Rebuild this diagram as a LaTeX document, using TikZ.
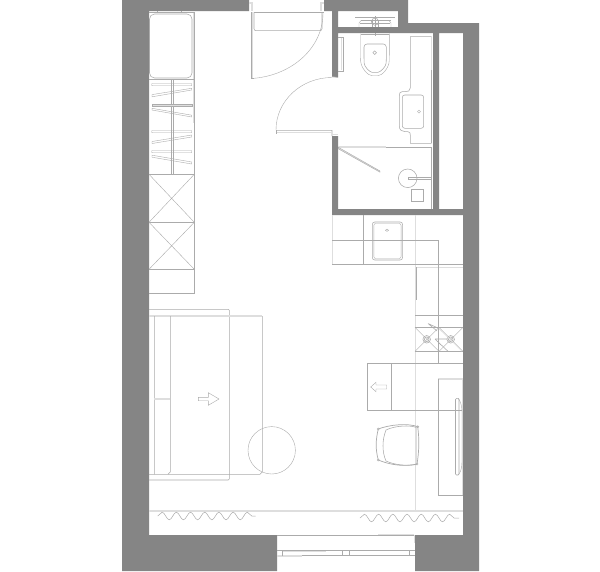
\documentclass[tikz,border=0pt]{standalone}
\usetikzlibrary{decorations.pathmorphing}
\definecolor{wallc}{HTML}{858585}
\definecolor{linec}{HTML}{ABABAB}
\definecolor{lightc}{HTML}{DEDEDE}
\tikzset{
  wall/.style={fill=wallc,draw=none},
  thin line/.style={draw=linec,line width=0.55pt},
  fine line/.style={draw=linec,line width=0.4pt},
  light line/.style={draw=lightc,line width=1.1pt},
  wave/.style={draw=linec,line width=0.5pt,decorate,decoration={snake,amplitude=3.8pt,segment length=14.2pt}},
}
\begin{document}
\begin{tikzpicture}[x=1pt,y=-1pt]
\useasboundingbox (0,0) rectangle (600,571);
\fill[white] (0,0) rectangle (600,571);
% walls
\fill[wall] (122,0)--(249,0)--(249,11)--(149,11)--(149,535)--(277,535)--(277,571)--(122,571)--cycle;
\fill[wall,even odd rule] (324,0)--(408,0)--(408,23)--(479,23)--(479,571)--(415,571)--(415,535)--(463,535)--(463,215)--(332,215)--(332,136)--(338,136)--(338,209)--(433,209)--(433,33)--(338,33)--(338,77)--(332,77)--(332,11)--(324,11)--cycle
 (338,11)--(398,11)--(398,27)--(338,27)--cycle
 (439,33)--(463,33)--(463,209)--(439,209)--cycle;
% wardrobe
\draw[light line] (193.5,12)--(193.5,123);
\draw[thin line] (149,12)--(194.3,12)--(194.3,293.3)--(149,293.3);
\draw[fine line] (157,11)--(157,12) (181,11)--(181,12);
\draw[thin line,rounded corners=5pt] (149.5,14)rectangle(192,78);
\draw[thin line] (149,79.3)--(194.3,79.3) (149,174.3)--(194.3,174.3) (149,222.3)--(194.3,222.3) (149,269.3)--(194.3,269.3);
\draw[fine line] (170.8,79.3)--(170.8,174.3) (172.7,79.3)--(172.7,174.3);
\foreach \yy in {83.5,130.5,150.5}{\draw[fine line,rounded corners=0.5pt] (151.7,\yy) rectangle (191.7,\yy+2.2);}
\draw[fine line,fill=lightc] (151.7,103.8) rectangle (191.7,105.8);
\draw[fine line] (152,94.6)--(191.7,88.3)--(191.7,90)--(152,96.8)--cycle;
\draw[fine line] (152,108.3)--(191.7,115.2)--(191.7,117)--(152,110)--cycle;
\draw[fine line] (152,141.5)--(191.7,135)--(191.7,137)--(152,143.5)--cycle;
\draw[fine line] (152,155.2)--(191.7,162)--(191.7,164)--(152,157.2)--cycle;
\draw[fine line] (149,174.3)--(194.3,222.3) (194.3,174.3)--(149,222.3);
\draw[fine line] (149,222.3)--(194.3,269.3) (194.3,222.3)--(149,269.3);
% sofa
\draw[thin line,rounded corners=1pt] (149,309.3)--(229.3,309.3)--(229.3,480)--(149,480);
\draw[light line] (149,316)--(262,316);
\draw[thin line] (262.3,316)--(262.3,472)--(260,474.3)--(149,474.3);
\draw[thin line] (154.3,316)--(154.3,474.3) (168,474.3)--(170.3,472)--(170.3,316);
\draw[light line] (154.3,399)--(170.3,399);
\draw[fine line] (198.3,397.3)--(208.3,397.3)--(208.3,392.7)--(219,399)--(208.3,405.3)--(208.3,400.7)--(198.3,400.7)--cycle;
\draw[fine line] (271.7,450.3) circle (23.7);
% curtain
\draw[light line] (149,511)--(463,511);
\draw[wave] (157.7,516)--(255.7,516);
\draw[wave] (360,518)--(459,518);
% window
\draw[thin line] (277,535.3)--(415,535.3);
\draw[light line] (378,534.6)--(414,534.6) (414.6,535)--(414.6,543);
\draw[thin line] (277,550.7)--(415,550.7) (277,555.7)--(415,555.7);
\draw[light line] (282,551.5)--(326,551.5) (277,556)--(302,556);
\draw[fine line] (281.7,550.7)--(281.7,555.7) (342.3,550.7)--(342.3,555.7) (349.3,550.7)--(349.3,555.7) (409.3,550.7)--(409.3,555.7);
% kitchen
\draw[light line] (332.5,215)--(332.5,264) (415.5,215)--(415.5,511) (415,267.3)--(463,267.3);
\draw[thin line] (332,240)--(438.3,240) (332,264.3)--(463,264.3) (363.3,215)--(363.3,264.3) (438.3,240)--(438.3,363.3);
\draw[thin line,rounded corners=2.5pt] (372.3,222) rectangle (402.6,260);
\draw[fine line,rounded corners=2pt] (373.8,223.5) rectangle (401.1,258.5);
\draw[fine line] (387,230.3) ellipse (1.6 and 1.1);
\draw[thin line] (415.8,267)--(415.8,300);
\draw[thin line] (415,315.3)--(463,315.3) (415,327.3)--(463,327.3) (415,351.3)--(463,351.3);
\draw[fine line] (415,327.3)--(439,351.3) (439,327.3)--(415,351.3) (439,327.3)--(463,351.3) (463,327.3)--(439,351.3);
\foreach \cx in {426.7,450.7}{\draw[thin line] (\cx,339.3) circle (3.8) (\cx,339.3) circle (2.3);}
\draw[thin line] (428,323.5)--(439,328.5) (428,323.5)--(437,331) (435,339)--(447,339) (435,339)--(448,351.3) (435,339)--(441,345);
\draw[light line,line width=0.8pt] (439,328.5)--(462,351);
\draw[thin line] (367.3,363.3)--(463,363.3) (367.3,363.3)--(367.3,410)--(463,410) (391.3,363.3)--(391.3,410);
\draw[fine line] (370.7,387)--(376,382.3)--(376,385)--(386.7,385)--(386.7,389)--(376,389)--(376,391.7)--cycle;
% desk
\draw[light line] (438.3,379)--(463,379);
\draw[thin line] (438.3,379)--(438.3,495.3)--(463,495.3);
\draw[light line,line width=0.8pt] (462.3,379)--(462.3,495);
\draw[thin line,rounded corners=1pt] (455.5,398.5)--(459,398.3)--(459,475)--(455.5,475)--cycle;
\draw[fine line] (458,398.3) .. controls (460,400) and (462,405) .. (462,412)--(462,462) .. controls (462,469) and (460,473.5) .. (458,475);
% chair
\draw[thin line,line width=0.7pt] (378.3,429) .. controls (390,424.5) and (408,423) .. (417.7,426.7) .. controls (419.5,440) and (419,452) .. (417,464) .. controls (405,467) and (390,465) .. (378.3,460) .. controls (375.5,450) and (375.5,440) .. (378.3,429)--cycle;
\draw[thin line] (386,430) .. controls (395,425.5) and (410,425) .. (416.5,427.5);
\draw[thin line] (386,430) .. controls (382,440) and (382,452) .. (386,461) .. controls (395,465) and (405,466) .. (416.5,464.5);
\draw[light line,line width=0.8pt] (416.5,428)--(416.5,463);
\foreach \px/\py in {378.3/429,417.7/426.7,417/464,378.3/460}{\draw[fine line] (\px,\py) circle (1.1);}
% bath niche
\draw[fine line] (355,17)--(395,17) (361,20.5)--(391,20.5) (360,23)--(390,23);
\draw[fine line] (359,27)--(359,23)--(361,20.5) (391,27)--(391,23)--(389,20.5);
\draw[thin line] (375,21.7) circle (3.6);
\draw[fine line] (375,16)--(375,27) (372,27)--(372,20) (378,27)--(378,20);
% toilet
\draw[fine line] (375,33)--(375,36);
\draw[thin line,rounded corners=1pt] (361,34)--(389,34);
\draw[fine line,rounded corners=3pt] (360.5,33.5)--(360.5,58) .. controls (361,68) and (368,75.7) .. (375,75.7) .. controls (382,75.7) and (389,68) .. (389.3,58)--(389.3,33.5);
\draw[thin line,rounded corners=3pt] (364,44)--(386.3,44)--(386.3,60) .. controls (386,67) and (380,72.3) .. (375,72.3) .. controls (370,72.3) and (364.3,67) .. (364,60)--cycle;
\draw[thin line] (374.7,52.7) circle (1.8);
% towel rail
\draw[thin line] (338,37.3)--(343,37.3)--(343,71)--(338,71);
\draw[light line] (341.5,38)--(341.5,70);
% vanity
\draw[thin line] (431.7,36.7)--(410.3,36.7)--(410.3,88) .. controls (410.3,91) and (408,91.7) .. (405,91.7)--(402,91.7) .. controls (400,92) and (399.3,93) .. (399.3,96)--(399.3,126) .. controls (399.3,130) and (402,131.7) .. (405,131.7)--(408,131.7) .. controls (410,132) and (410.3,133) .. (410.3,135)--(410.3,143.3)--(431.7,143.3);
\draw[thin line,rounded corners=2.5pt] (402.3,95) rectangle (423.7,128.3);
\draw[fine line] (419,111.7) circle (1.5);
\draw[light line] (431.8,36.7)--(431.8,70);
% shower
\draw[light line] (338,147)--(386,147);
\draw[thin line] (386,147.5)--(431.7,147.5) (431.7,147)--(431.7,209);
\draw[thin line] (431.7,70)--(431.7,143.3);
\draw[fine line,fill=lightc] (338.3,147.3)--(380,171)--(380,172.2)--(338.3,148.8)--cycle;
\draw[thin line] (407.7,178.3) circle (9.3);
\draw[fine line] (408.3,177.2)--(431.7,177.2) (408.3,179)--(431.7,179);
\draw[fine line] (408.3,177.2)--(408.3,179);
\draw[thin line] (411.3,189.3) rectangle (423.3,201.7);
% entry door
\draw[light line] (249,3)--(252,3)--(252,11);
\draw[light line] (324,3)--(321,3)--(321,11);
\draw[light line] (252.5,12)--(252.5,78);
\draw[thin line,rounded corners=2pt] (254,12.3)--(254,30.7)--(322,30.7)--(322,12.3);
\draw[thin line] (254,12.3)--(324,12.3);
\draw[thin line] (254,78.3)--(251.5,78.3)--(251.5,12);
\draw[fine line] (254,78.3) .. controls (292,75) and (323,48) .. (323,13);
% bath door
\draw[fine line] (276,130) .. controls (276,101) and (301,77.5) .. (332,77.5);
\draw[thin line] (332,76.5)--(338,77.5) (276,130.3)--(332,130.3)--(332,136);
\draw[light line] (276,132.7)--(332,132.7) (332,134.5)--(338,134.5);
\draw[thin line] (276,130.3)--(276,133.5);
\end{tikzpicture}
\end{document}
